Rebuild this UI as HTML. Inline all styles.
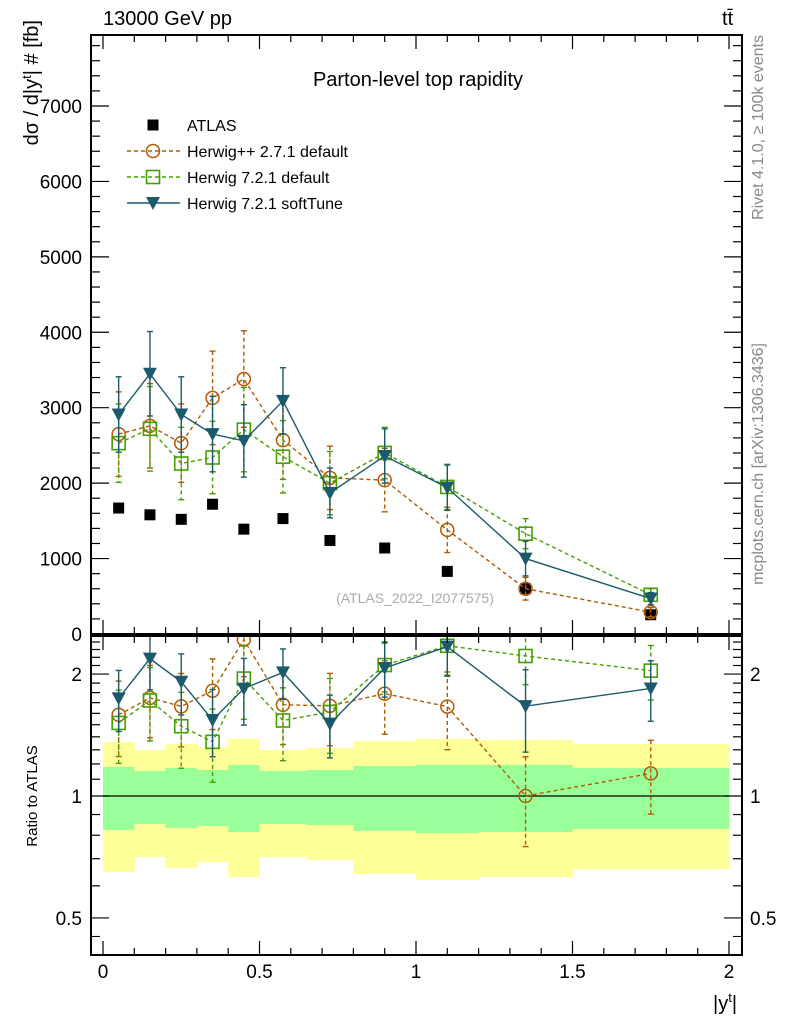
<!DOCTYPE html>
<html><head><meta charset="utf-8"><style>
body{margin:0;background:#fff;width:786px;height:1024px;overflow:hidden}
svg text{font-family:"Liberation Sans",sans-serif}
</style></head><body>
<svg id="c" width="786" height="1024">
<defs><clipPath id="cm"><rect x="91" y="35" width="651" height="599"/></clipPath><clipPath id="cr"><rect x="91" y="636" width="651" height="319"/></clipPath></defs>
</svg>
<script>
const centers=[0.05,0.15,0.25,0.35,0.45,0.575,0.725,0.9,1.1,1.35,1.75];
const edges=[0,0.1,0.2,0.3,0.4,0.5,0.65,0.8,1.0,1.2,1.5,2.0];
const atlas=[1670,1580,1520,1720,1390,1530,1240,1140,830,600,255];
const hpp=[2650,2760,2530,3130,3380,2570,2070,2040,1380,600,290];
const hppErr=[560,560,520,620,640,520,420,420,300,150,60];
const hdef=[2530,2720,2260,2340,2710,2350,2000,2400,1950,1330,520];
const hdefErr=[520,560,480,480,560,480,420,340,300,200,80];
const hsoft=[2910,3450,2910,2650,2560,3090,1870,2360,1940,1000,470];
const hsoftErr=[500,560,500,500,480,440,330,360,300,230,80];
const greenHi=[1.18,1.153,1.172,1.159,1.193,1.153,1.159,1.186,1.193,1.193,1.172];
const greenLo=[0.824,0.853,0.834,0.843,0.815,0.853,0.848,0.820,0.810,0.815,0.829];
const yellowHi=[1.36,1.30,1.344,1.32,1.383,1.30,1.314,1.367,1.383,1.375,1.344];
const yellowLo=[0.649,0.707,0.664,0.687,0.631,0.707,0.695,0.642,0.620,0.631,0.660];
const yTicks=[0,1000,2000,3000,4000,5000,6000,7000];
const xTicks=[0,0.5,1,1.5,2];
const rTicks=[0.5,1,2];

const NS="http://www.w3.org/2000/svg";const svg=document.getElementById('c');
function el(t,a,p){const e=document.createElementNS(NS,t);for(const k in a)e.setAttribute(k,a[k]);(p||svg).appendChild(e);return e;}
const L=91,R=742,MT=35,MB=634,RT=636,RB=955;
const X=v=>103+v*313;
const Y=v=>634-v*0.07543;
const RY=v=>796-Math.log10(v)*405;

const bands=el('g',{});
for(let i=0;i<centers.length;i++){
 let r=el('rect',{x:X(edges[i]),y:RY(yellowHi[i]),width:X(edges[i+1])-X(edges[i])+0.5,height:RY(yellowLo[i])-RY(yellowHi[i]),fill:'#ffff99'},bands);
 
 let g=el('rect',{x:X(edges[i]),y:RY(greenHi[i]),width:X(edges[i+1])-X(edges[i])+0.5,height:RY(greenLo[i])-RY(greenHi[i]),fill:'#99ff99'},bands);
 
}
el('line',{x1:X(0),x2:X(2),y1:RY(1),y2:RY(1),stroke:'#000','stroke-width':1.3});

const ag=el('g',{'clip-path':'url(#cm)'});
const mainG=el('g',{'clip-path':'url(#cm)'});
const ratG=el('g',{'clip-path':'url(#cr)'});

function series(vals,errs,color,dash,marker,name,ratio){
 const g=el('g',{},ratio?ratG:mainG);
 const yf=ratio?(i,v)=>RY(v/atlas[i]):(i,v)=>Y(v);
 const pts=vals.map((v,i)=>[X(centers[i]),yf(i,v)]);
 el('polyline',{points:pts.map(p=>p.join(',')).join(' '),fill:'none',stroke:color,'stroke-width':1.4,'stroke-dasharray':dash},g);
 vals.forEach((v,i)=>{const x=X(centers[i]);const y1=yf(i,v+errs[i]),y2=yf(i,Math.max(v-errs[i],1));
  el('line',{x1:x,x2:x,y1:y1,y2:y2,stroke:color,'stroke-width':1.4,'stroke-dasharray':dash},g);
  el('line',{x1:x-3,x2:x+3,y1:y1,y2:y1,stroke:color,'stroke-width':1.4},g);
  el('line',{x1:x-3,x2:x+3,y1:y2,y2:y2,stroke:color,'stroke-width':1.4},g);
  marker(pts[i][0],pts[i][1],g);});
}
const circ=(x,y,g)=>el('circle',{cx:x,cy:y,r:6.5,fill:'none',stroke:'#b35a00','stroke-width':1.5},g);
const sq=(x,y,g)=>el('rect',{x:x-6.5,y:y-6.5,width:13,height:13,fill:'none',stroke:'#44a000','stroke-width':1.6},g);
const tri=(x,y,g)=>el('polygon',{points:`${x-7},${y-6} ${x+7},${y-6} ${x},${y+7}`,fill:'#1b5a6a'},g);
const atl=(x,y,g)=>el('rect',{x:x-5.5,y:y-5.5,width:11,height:11,fill:'#000'},g);

atlas.forEach((v,i)=>atl(X(centers[i]),Y(v),ag));
series(hpp,hppErr,'#b35a00','4,3',circ,'herwigpp-271-series',false);
series(hdef,hdefErr,'#44a000','4,3',sq,'herwig-721-default-series',false);
series(hsoft,hsoftErr,'#1b5a6a','',tri,'herwig-721-softtune-series',false);
series(hpp,hppErr,'#b35a00','4,3',circ,'herwigpp-271-ratio',true);
series(hdef,hdefErr,'#44a000','4,3',sq,'herwig-721-default-ratio',true);
series(hsoft,hsoftErr,'#1b5a6a','',tri,'herwig-721-softtune-ratio',true);

for(const [t,b] of [[MT,MB],[RT,RB]]){
 const f=el('rect',{x:L,y:t,width:R-L,height:b-t,fill:'none',stroke:'#000','stroke-width':2});
 
 for(let v=0;v<=2.001;v+=0.1){const major=Math.abs(v*2-Math.round(v*2))<1e-6;const len=major?14:7;
  el('line',{x1:X(v),x2:X(v),y1:b,y2:b-len,stroke:'#000','stroke-width':1.2});
  el('line',{x1:X(v),x2:X(v),y1:t,y2:t+len,stroke:'#000','stroke-width':1.2});}
}
for(let v=0;v<=7800;v+=200){const major=v%1000===0;const len=major?18:9;const y=Y(v);if(y<MT)continue;
 el('line',{x1:L,x2:L+len,y1:y,y2:y,stroke:'#000','stroke-width':1.2});
 el('line',{x1:R,x2:R-len,y1:y,y2:y,stroke:'#000','stroke-width':1.2});}
for(const v of yTicks){const t=el('text',{x:82,y:Y(v)+7,'text-anchor':'end','font-size':19});t.textContent=v;}
for(let v=0.5;v<=2.5;v=Math.round((v+0.1)*10)/10){const major=rTicks.includes(v);const len=major?18:9;
 el('line',{x1:L,x2:L+len,y1:RY(v),y2:RY(v),stroke:'#000','stroke-width':1.2});
 el('line',{x1:R,x2:R-len,y1:RY(v),y2:RY(v),stroke:'#000','stroke-width':1.2});}
el('line',{x1:L,x2:L+9,y1:RY(0.45),y2:RY(0.45),stroke:'#000'});el('line',{x1:R,x2:R-9,y1:RY(0.45),y2:RY(0.45),stroke:'#000'});
for(const v of rTicks){
 let t=el('text',{x:82,y:RY(v)+7,'text-anchor':'end','font-size':19});t.textContent=v;
 t=el('text',{x:750,y:RY(v)+7,'font-size':19});t.textContent=v;}
for(const v of xTicks){const t=el('text',{x:X(v),y:978,'text-anchor':'middle','font-size':19});t.textContent=v;}

const lg=el('g',{});
const items=[['ATLAS',atl,'#000',null],['Herwig++ 2.7.1 default',circ,'#b35a00','4,3'],['Herwig 7.2.1 default',sq,'#44a000','4,3'],['Herwig 7.2.1 softTune',tri,'#1b5a6a','']];
items.forEach((it,i)=>{const y=125+i*26;const e=el('g',{},lg);
 if(it[3]!==null)el('line',{x1:127,x2:180,y1:y,y2:y,stroke:it[2],'stroke-width':1.4,'stroke-dasharray':it[3]},e);
 it[1](153,y,e);const t=el('text',{x:187,y:y+6,'font-size':16},e);t.textContent=it[0];});

function txt(s,a,name){const t=el('text',a);t.textContent=s;return t;}
txt('Parton-level top rapidity',{x:418,y:86,'text-anchor':'middle','font-size':20},'chart-title');
txt('13000 GeV pp',{x:103,y:25,'font-size':20},'energy-label');
const tt=txt('t',{x:722,y:25,'font-size':20},'process-label');const ts=el('tspan',{},tt);ts.textContent='t̄';
txt('(ATLAS_2022_I2077575)',{x:415,y:603,'text-anchor':'middle','font-size':14,fill:'#aaa'},'analysis-id');
txt('Rivet 4.1.0, ≥ 100k events',{x:0,y:0,'font-size':16,fill:'#888','text-anchor':'end',transform:'translate(763,35) rotate(-90)'},'rivet-label');
txt('mcplots.cern.ch [arXiv:1306.3436]',{x:0,y:0,'font-size':16,fill:'#888','text-anchor':'end',transform:'translate(763,343) rotate(-90)'},'mcplots-label');
const yt=txt('dσ / d|y',{x:0,y:0,'font-size':20,'text-anchor':'end',transform:'translate(38,20) rotate(-90)'},'y-axis-title');
let s=el('tspan',{dy:-7,'font-size':13},yt);s.textContent='t';s=el('tspan',{dy:7},yt);s.textContent='| # [fb]';
txt('Ratio to ATLAS',{x:0,y:0,'font-size':15,'text-anchor':'middle',transform:'translate(37,796) rotate(-90)'},'ratio-axis-title');
const xt=txt('|y',{x:713,y:1010,'font-size':20},'x-axis-title');s=el('tspan',{dy:-8,'font-size':13},xt);s.textContent='t';s=el('tspan',{dy:8},xt);s.textContent='|';
</script>
</body></html>
